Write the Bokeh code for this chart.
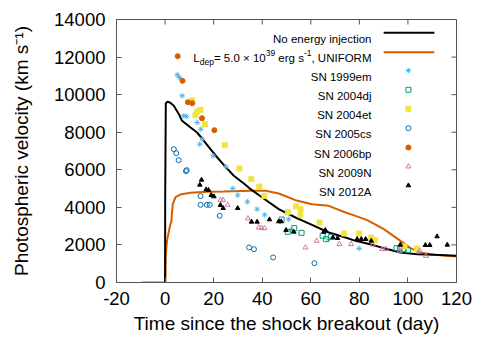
from bokeh.plotting import figure
from bokeh.models import Range1d, FixedTicker, Label
from bokeh.embed import file_html
from bokeh.resources import INLINE

# ---------------- data ----------------
# Model curves (day, km/s)
t_noinj = [0.0, 0.05, 0.3, 1.0, 2.0, 3.6, 5.7, 7.0, 10.5, 13.2, 16.0, 18.7, 21.5, 24.9,
           28.3, 33.1, 35.2, 40.0, 46.8, 53.7, 60.5, 67.4, 74.3, 78.4, 83.2, 90.1, 96.9,
           103.8, 110.7, 120.0]
v_noinj = [0, 4500, 9546, 9620, 9582, 9404, 8961, 8606, 8251, 7985, 7541, 7098, 6654, 6157,
           5680, 5199, 4968, 4525, 3904, 3460, 3070, 2662, 2395, 2218, 2076, 1828, 1597,
           1508, 1473, 1420]

t_uniform = [-9.5, 0.1, 0.3, 0.8, 1.5, 2.1, 2.6, 2.9, 3.2, 4.3, 6.3, 10.5, 17.3, 24.2, 35.2,
             41.4, 46.8, 53.7, 60.5, 67.4, 74.3, 78.4, 83.2, 90.1, 96.9, 101.0, 105.1, 110.7,
             120.0]
v_uniform = [0, 0, 1500, 2236, 2680, 3050, 3265, 3800, 4188, 4542, 4684, 4773, 4826, 4844,
             4880, 4880, 4738, 4383, 4170, 4081, 3726, 3549, 3318, 2839, 2218, 1828, 1597,
             1473, 1384]

# Observations
sn1999em_t = [5.0, 5.9, 7.0, 7.7, 8.8, 13.2, 14.7, 14.3, 15.3, 19.8, 25.0, 27.9, 29.9, 33.9,
              37.9, 41.0, 50.9, 51.9, 67.2, 79.9]
sn1999em_v = [11055, 10913, 9937, 8872, 8837, 8517, 8162, 7364, 7630, 6743, 6160, 5004, 4649,
              4294, 3904, 3602, 3371, 2790, 2307, 1810]

sn2004dj_t = [48.0, 50.5, 53.2, 56.2, 64.9, 66.3, 68.4, 95.3, 96.7, 98.3, 100.0]
sn2004dj_v = [3353, 2697, 2892, 2644, 2484, 2307, 2431, 1828, 1828, 1774, 1721]

sn2004et_t = [11.2, 12.5, 13.2, 14.6, 16.4, 24.6, 30.6, 35.5, 38.8, 40.9, 50.6, 54.0, 55.8,
              55.7, 63.6, 73.7, 79.9, 84.9, 86.6, 98.6, 103.8]
sn2004et_v = [9706, 8908, 9103, 9192, 8428, 7311, 6069, 5501, 5110, 4613, 3744, 4046, 3904,
              3584, 3194, 2608, 2608, 2395, 2253, 1916, 1810]

sn2005cs_t = [3.6, 4.6, 5.6, 8.6, 8.9, 14.6, 14.6, 17.2, 18.4, 22.5, 34.6, 36.6, 44.5, 61.5]
sn2005cs_v = [7098, 6885, 6512, 5930, 5980, 4596, 4134, 4134, 4134, 3549, 1863, 1774, 1331, 1029]

sn2006bp_t = [5.2, 7.2, 9.4, 11.2, 15.2, 20.3]
sn2006bp_v = [12048, 10735, 9600, 9546, 8748, 8109]

sn2009n_t = [22.8, 23.9, 25.8, 34.1, 38.6, 39.7, 40.9, 57.8, 62.4, 71.8, 76.6, 85.5, 89.4,
             91.0, 96.7, 104.8, 107.4]
sn2009n_v = [4383, 4383, 4134, 3407, 2928, 2892, 2892, 1863, 2218, 2040, 2040, 2020, 1774,
             1774, 1686, 1680, 1420]

sn2012a_t = [14.3, 15.0, 16.9, 17.9, 19.0, 20.1, 22.8, 23.9, 29.9, 35.6, 37.9, 43.0, 46.8,
             47.8, 49.8, 53.0, 65.4, 66.0, 69.1, 71.0, 79.1, 80.8, 82.6, 84.9, 96.9, 107.2,
             109.0, 112.0, 116.2]
sn2012a_v = [5199, 5465, 4950, 4915, 4649, 4578, 4117, 3957, 3957, 3229, 3229, 3353, 3247,
             3247, 2786, 2697, 2697, 2786, 2395, 2360, 2307, 2307, 2307, 2218, 2005, 1987,
             1987, 2449, 2005]

x_ticks = [-20, 0, 20, 40, 60, 80, 100, 120]
x_tick_labels = ["-20", "0", "20", "40", "60", "80", "100", "120"]
y_ticks = [0, 2000, 4000, 6000, 8000, 10000, 12000, 14000]
y_tick_labels = ["0", "2000", "4000", "6000", "8000", "10000", "12000", "14000"]

# ---------------- styles ----------------
FONT = "Liberation Sans"
C_BLACK = "#000000"
C_ORANGE = "#d55e00"
C_LBLUE = "#56b4e9"
C_TEAL = "#009e73"
C_YELLOW = "#f0e442"
C_BLUE = "#0072b2"
C_PINK = "#cc79a7"
AXIS_COL = "#555555"

X0, X1, Y0, Y1 = -20, 120, 0, 14000
p = figure(width=490, height=342, x_range=Range1d(X0, X1), y_range=Range1d(Y0, Y1),
           output_backend="svg", toolbar_location=None,
           min_border_left=116, min_border_right=34, min_border_top=19, min_border_bottom=60)
p.grid.visible = False
p.outline_line_color = AXIS_COL
p.outline_line_width = 1
p.background_fill_color = "white"
p.border_fill_color = "white"

p.xaxis.ticker = FixedTicker(ticks=x_ticks)
p.yaxis.ticker = FixedTicker(ticks=y_ticks)
p.xaxis.major_label_overrides = dict(zip(x_ticks, x_tick_labels))
p.yaxis.major_label_overrides = dict(zip(y_ticks, y_tick_labels))
for ax in (p.xaxis[0], p.yaxis[0]):
    ax.major_tick_in = 5
    ax.major_tick_out = 0
    ax.minor_tick_line_color = None
    ax.major_tick_line_color = AXIS_COL
    ax.axis_line_color = AXIS_COL
    ax.major_label_text_font = FONT
    ax.major_label_text_font_size = "18.5px"
    ax.major_label_text_color = "black"
    ax.axis_label_text_font = FONT
    ax.axis_label_text_font_size = "19px"
    ax.axis_label_text_font_style = "normal"
    ax.axis_label_text_color = "black"

p.xaxis.axis_label = "Time since the shock breakout (day)"
p.yaxis.axis_label = "Photospheric velocity (km s\u207b\u00b9)"
p.xaxis.major_label_standoff = 9
p.xaxis.axis_label_standoff = 5
p.yaxis.major_label_standoff = 11
p.yaxis.axis_label_standoff = 19

# mirrored inward ticks on top and right (5 px long)
FRAME_W, FRAME_H = 340.0, 263.0
tick_dx = 5.0 * (X1 - X0) / FRAME_W
tick_dy = 5.0 * (Y1 - Y0) / FRAME_H
tx = [t for t in x_ticks if X0 < t < X1]
ty = [t for t in y_ticks if Y0 < t < Y1]
p.segment(x0=tx, y0=[Y1] * len(tx), x1=tx, y1=[Y1 - tick_dy] * len(tx),
          line_color=AXIS_COL, line_width=1)
p.segment(x0=[X1] * len(ty), y0=ty, x1=[X1 - tick_dx] * len(ty), y1=ty,
          line_color=AXIS_COL, line_width=1)

# ---------------- curves ----------------
p.line(t_uniform, v_uniform, line_color=C_ORANGE, line_width=2)
p.line(t_noinj, v_noinj, line_color=C_BLACK, line_width=2)

# ---------------- observations ----------------
MS = 5
series = [
    ("SN 1999em", sn1999em_t, sn1999em_v, dict(marker="asterisk", size=5.5, line_color=C_LBLUE, line_width=1)),
    ("SN 2004dj", sn2004dj_t, sn2004dj_v, dict(marker="square", size=MS, line_color=C_TEAL, fill_color=None, line_width=1)),
    ("SN 2004et", sn2004et_t, sn2004et_v, dict(marker="square", size=MS, line_color=C_YELLOW, fill_color=C_YELLOW)),
    ("SN 2005cs", sn2005cs_t, sn2005cs_v, dict(marker="circle", size=MS, line_color=C_BLUE, fill_color=None, line_width=1)),
    ("SN 2006bp", sn2006bp_t, sn2006bp_v, dict(marker="circle", size=MS, line_color=C_ORANGE, fill_color=C_ORANGE)),
    ("SN 2009N", sn2009n_t, sn2009n_v, dict(marker="triangle", size=MS, line_color=C_PINK, fill_color=None, line_width=1)),
    ("SN 2012A", sn2012a_t, sn2012a_v, dict(marker="triangle", size=4.5, line_color=C_BLACK, fill_color=C_BLACK)),
]
for name, t, v, st in series:
    p.scatter(t, v, **st)

# ---------------- legend (gnuplot style: text right-aligned, sample on right) ----------------
LEG_TEXT_X = 85.0
LEG_LINE_X0 = 90.0
LEG_LINE_X1 = 110.9
LEG_MARK_X = 100.2
LEG_ROWS = [13292, 12259, 11285, 10258, 9246, 8214, 7186, 6175, 5164]
LEG_FS = 11.5
SUB_FS = 8.5
BASE_OFF = -6.3

def add_text(txt, x_off=0.0, y_off=BASE_OFF, fs=LEG_FS, row=0, align="left"):
    p.add_layout(Label(x=LEG_TEXT_X, y=LEG_ROWS[row], x_offset=x_off, y_offset=y_off,
                       text=txt, text_font=FONT, text_font_size=f"{fs}px",
                       text_align=align, text_baseline="alphabetic", text_color="black"))

# row 0 : no energy injection
add_text("No energy injection", row=0, align="right")
p.line([LEG_LINE_X0, LEG_LINE_X1], [LEG_ROWS[0]] * 2, line_color=C_BLACK, line_width=2)

# row 1 : L_dep = 5.0 x 10^39 erg s^-1, UNIFORM  (built from pieces, right aligned)
W = {' ': 278, ',': 278, '.': 278, '=': 584, '\u00d7': 584, '-': 333, '0': 556, '1': 556,
     '3': 556, '5': 556, '9': 556, 'L': 556, 'd': 556, 'e': 556, 'p': 556, 'r': 333,
     'g': 556, 's': 500, 'U': 722, 'N': 722, 'I': 278, 'F': 611, 'O': 778, 'R': 722, 'M': 833}

def width(txt, fs):
    return sum(W.get(c, 556) for c in txt) * fs / 1000.0

# (text, font size, vertical shift px, leading space px)
pieces = [("L", LEG_FS, 0.0, 0.0), ("dep", SUB_FS, -3.8, 0.0), ("= 5.0 \u00d7 10", LEG_FS, 0.0, 0.0),
          ("39", SUB_FS, 5.0, 0.0), ("erg s", LEG_FS, 0.0, width(" ", LEG_FS)),
          ("-1", SUB_FS, 5.0, 0.0), (", UNIFORM", LEG_FS, 0.0, 0.0)]
total = sum(width(t, fs) + lead for t, fs, _, lead in pieces)
xo = -total
for txt, fs, dy, lead in pieces:
    xo += lead
    add_text(txt, x_off=xo, y_off=BASE_OFF + 0.7 + dy, fs=fs, row=1)
    xo += width(txt, fs)
p.line([LEG_LINE_X0, LEG_LINE_X1], [LEG_ROWS[1]] * 2, line_color=C_ORANGE, line_width=2)

# rows 2.. : supernovae
for i, (name, t, v, st) in enumerate(series):
    row = i + 2
    add_text(name, row=row, align="right")
    p.scatter([LEG_MARK_X], [LEG_ROWS[row]], **st)

open("out.html", "w").write(file_html(p, INLINE))
